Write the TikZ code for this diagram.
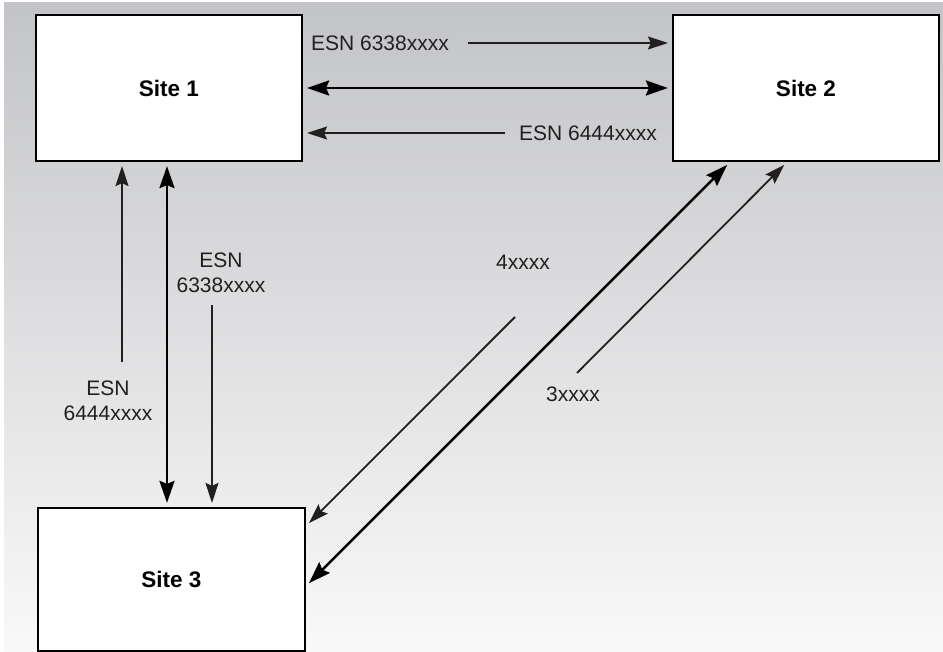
\documentclass[tikz,border=0pt]{standalone}
\usepackage{fontspec}
\setmainfont{Liberation Sans}
\usetikzlibrary{arrows.meta}
\definecolor{ink}{HTML}{231F20}
\definecolor{bgtop}{HTML}{C3C4C7}
\definecolor{bgbot}{HTML}{F9F9F9}
\begin{document}
\begin{tikzpicture}[x=1pt,y=-1pt,
  sitebox/.style={draw=black, line width=2.2pt, fill=white, font=\bfseries\fontsize{22.5}{26}\selectfont, text=black, inner sep=0pt},
  lbl/.style={font=\fontsize{21}{24.5}\selectfont, text=ink, align=center, inner sep=0pt},
  thinarr/.style={draw=ink, line width=1.8pt, shorten >=4pt, -{Stealth[length=20pt,width=13pt,inset=3pt]}},
  thickarr/.style={draw=black, line width=2.6pt, shorten >=4pt, shorten <=4pt, {Stealth[length=22pt,width=15pt,inset=3pt]}-{Stealth[length=22pt,width=15pt,inset=3pt]}}]
\useasboundingbox (0,0) rectangle (943,652);
\shade[top color=bgtop, bottom color=bgbot] (4,3) rectangle (943,652);

\node[sitebox, minimum width=266pt, minimum height=146pt] (s1) at (169,88) {Site 1};
\node[sitebox, minimum width=266pt, minimum height=146pt] (s2) at (806,88) {Site 2};
\node[sitebox, minimum width=267pt, minimum height=143pt] (s3) at (171.5,579.5) {\raisebox{-4.5pt}{Site 3}};

% horizontal connectors
\coordinate (h1) at (468,43);
\draw[thinarr] (h1) -- (h1 -| s2.west);
\draw[thickarr] (s1.east) -- (s2.west);
\coordinate (h3) at (505,133);
\draw[thinarr] (h3) -- (h3 -| s1.east);
\node[lbl] (l1) at (380,43) {ESN 6338xxxx};
\node[lbl] (l2) at (588,133) {ESN 6444xxxx};

% vertical connectors
\coordinate (v1) at (122,362);
\draw[thinarr] (v1) -- (v1 |- s1.south);
\coordinate (v2) at (167,300);
\draw[thickarr] (v2 |- s1.south) -- (v2 |- s3.north);
\coordinate (v3) at (212,305);
\draw[thinarr] (v3) -- (v3 |- s3.north);
\node[lbl] (l3) at (221,273) {ESN\\6338xxxx};
\node[lbl] (l4) at (108,401) {ESN\\6444xxxx};

% diagonal connectors
\coordinate (d1) at (730,300);
\coordinate (d2) at (400,586);
\draw[thickarr] (d1 |- s2.south) -- (d2 -| s3.east);
\coordinate (d3) at (577,373);
\coordinate (d3e) at (787,300);
\draw[thinarr] (d3) -- (d3e |- s2.south);
\coordinate (d4) at (515,317);
\coordinate (d4e) at (400,526);
\draw[thinarr] (d4) -- (d4e -| s3.east);
\node[lbl] (l5) at (523,262) {4xxxx};
\node[lbl] (l6) at (573,394) {3xxxx};
\end{tikzpicture}
\end{document}
